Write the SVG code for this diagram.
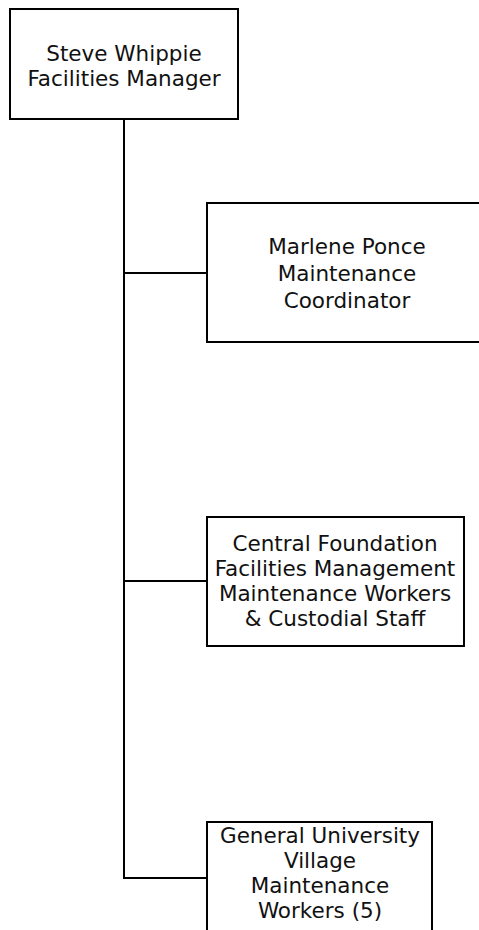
<svg xmlns="http://www.w3.org/2000/svg" width="479" height="930" viewBox="0 0 479 930">
<style>
rect.box{fill:#fff;stroke:#000;stroke-width:2}
.conn line{stroke:#000;stroke-width:2}
text{font-family:"DejaVu Sans","Liberation Sans",sans-serif;font-size:21.5px;fill:#111;text-anchor:middle}
</style>
<rect width="479" height="930" fill="#fff"/>
<g id="connectors" class="conn">
<line x1="124" y1="119" x2="124" y2="879"/>
<line x1="123" y1="273" x2="207" y2="273"/>
<line x1="123" y1="581" x2="207" y2="581"/>
<line x1="123" y1="878" x2="207" y2="878"/>
</g>
<g id="node-manager">
<rect class="box" x="10" y="9" width="228" height="110"/>
<text x="124" y="61">Steve Whippie</text>
<text x="124" y="86">Facilities Manager</text>
</g>
<g id="node-coordinator">
<rect class="box" x="207" y="203" width="300" height="139"/>
<text x="347" y="254">Marlene Ponce</text>
<text x="347" y="281">Maintenance</text>
<text x="347" y="308">Coordinator</text>
</g>
<g id="node-central">
<rect class="box" x="207" y="517" width="257" height="129"/>
<text x="335" y="551">Central Foundation</text>
<text x="335" y="576">Facilities Management</text>
<text x="335" y="601">Maintenance Workers</text>
<text x="335" y="626">&amp; Custodial Staff</text>
</g>
<g id="node-village">
<rect class="box" x="207" y="822" width="225" height="150"/>
<text x="320" y="843">General University</text>
<text x="320" y="868">Village</text>
<text x="320" y="893">Maintenance</text>
<text x="320" y="918">Workers (5)</text>
</g>
</svg>
